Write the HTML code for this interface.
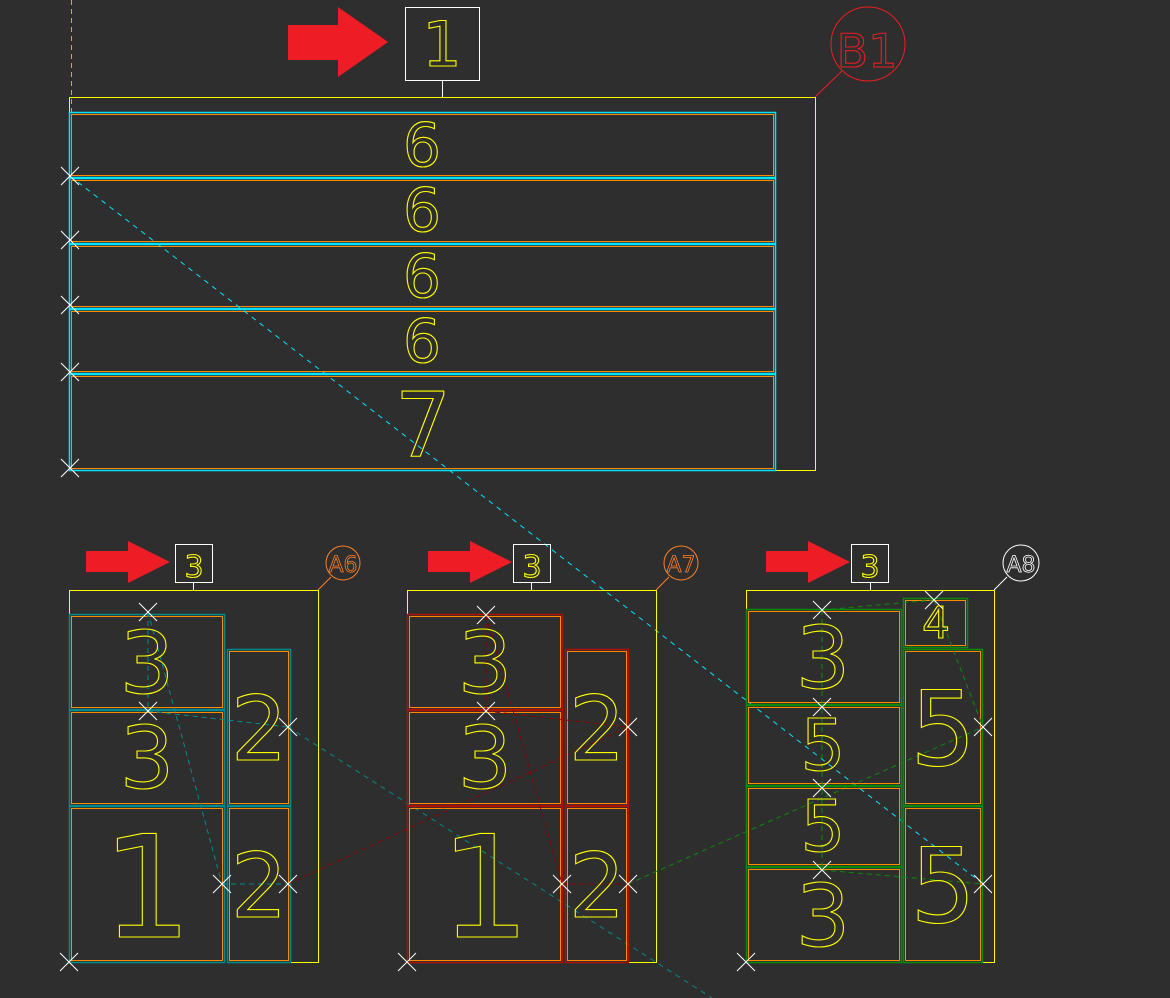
<!DOCTYPE html>
<html><head><meta charset="utf-8"><style>
html,body{margin:0;padding:0;background:#2e2e2e;}
svg{display:block}
text{font-family:"DejaVu Sans","Liberation Sans",sans-serif;fill:none;stroke:#ffff00;stroke-width:1.1;text-anchor:middle}
</style></head><body>
<svg width="1170" height="998" viewBox="0 0 1170 998" xmlns="http://www.w3.org/2000/svg">
<rect width="1170" height="998" fill="#2e2e2e"/>
<g fill="none" stroke-width="1">
<polygon points="288,25 338,25 338,7 388,42 338,77 338,60 288,60" fill="#ee1c24" stroke="none"/>
<rect x="405.5" y="7.5" width="74" height="73" stroke="#fff"/>
<line x1="442.5" y1="81" x2="442.5" y2="97" stroke="#fff"/>
<circle cx="868" cy="44" r="37" stroke="#ee1c24"/>
<line x1="815" y1="97" x2="842" y2="71" stroke="#ee1c24"/>
<polyline points="69.5,112 69.5,97.5 815.5,97.5 815.5,470.5 775,470.5" stroke="#ffff00"/>
<line x1="71.5" y1="0" x2="71.5" y2="112" stroke="#e0a040" stroke-dasharray="5,4"/>
<g>
<rect x="69.5" y="112.5" width="706" height="65" stroke="#00e5ff" stroke-width="1.5"/>
<rect x="71.5" y="114.5" width="702" height="61" stroke="#ff8c00"/>
<rect x="69.5" y="178.5" width="706" height="65" stroke="#00e5ff" stroke-width="1.5"/>
<rect x="71.5" y="180.5" width="702" height="61" stroke="#ff8c00"/>
<rect x="69.5" y="244.5" width="706" height="64" stroke="#00e5ff" stroke-width="1.5"/>
<rect x="71.5" y="246.5" width="702" height="60" stroke="#ff8c00"/>
<rect x="69.5" y="309.5" width="706" height="64" stroke="#00e5ff" stroke-width="1.5"/>
<rect x="71.5" y="311.5" width="702" height="60" stroke="#ff8c00"/>
<rect x="69.5" y="374.5" width="706" height="96" stroke="#00e5ff" stroke-width="1.5"/>
<rect x="71.5" y="376.5" width="702" height="92" stroke="#ff8c00"/>
</g>
<line x1="70" y1="176" x2="983" y2="884" stroke="#00e5ff" stroke-dasharray="5,5"/>
<line x1="288" y1="727" x2="712" y2="998" stroke="#008b8b" stroke-dasharray="5,5"/>

<polygon points="86,551 128,551 128,541 170,562 128,583 128,572 86,572" fill="#ee1c24" stroke="none"/>
<rect x="175.5" y="544.5" width="37" height="38" stroke="#fff"/>
<line x1="193.5" y1="583" x2="193.5" y2="590" stroke="#fff"/>
<polyline points="69.5,615 69.5,590.5 318.5,590.5 318.5,962.5 290,962.5" stroke="#ffff00"/>
<circle cx="343" cy="563" r="17" stroke="#ff7f27"/>
<line x1="318" y1="590" x2="331" y2="577" stroke="#ff7f27"/>
<g stroke="#008b8b" stroke-width="1.5">
<rect x="69.5" y="614.5" width="155" height="95"/><rect x="69.5" y="710.5" width="155" height="95"/><rect x="69.5" y="806.5" width="155" height="156"/>
<rect x="227.5" y="649.5" width="63" height="156"/><rect x="227.5" y="806.5" width="63" height="156"/>
</g>
<g stroke="#ff8c00">
<rect x="71.5" y="616.5" width="151" height="91"/><rect x="71.5" y="712.5" width="151" height="91"/><rect x="71.5" y="808.5" width="151" height="152"/>
<rect x="229.5" y="651.5" width="59" height="152"/><rect x="229.5" y="808.5" width="59" height="152"/>
</g>
<g stroke="#008b8b" stroke-dasharray="5,4">
<line x1="148" y1="612" x2="148" y2="711"/><line x1="148" y1="612" x2="222" y2="884"/>
<line x1="222" y1="884" x2="288" y2="884"/><line x1="148" y1="711" x2="288" y2="727"/>
</g>
<line x1="288" y1="884" x2="628" y2="727" stroke="#8b0000" stroke-dasharray="5,4"/>

<polygon points="428,551 470,551 470,541 512,562 470,583 470,572 428,572" fill="#ee1c24" stroke="none"/>
<rect x="513.5" y="544.5" width="37" height="38" stroke="#fff"/>
<line x1="531.5" y1="583" x2="531.5" y2="590" stroke="#fff"/>
<polyline points="407.5,615 407.5,590.5 656.5,590.5 656.5,962.5 628,962.5" stroke="#ffff00"/>
<circle cx="681" cy="563" r="17" stroke="#ff7f27"/>
<line x1="656" y1="590" x2="669" y2="577" stroke="#ff7f27"/>
<g stroke="#b01000" stroke-width="1.5">
<rect x="407.5" y="614.5" width="155" height="95"/><rect x="407.5" y="710.5" width="155" height="95"/><rect x="407.5" y="806.5" width="155" height="156"/>
<rect x="565.5" y="649.5" width="63" height="156"/><rect x="565.5" y="806.5" width="63" height="156"/>
</g>
<g stroke="#ff8c00">
<rect x="409.5" y="616.5" width="151" height="91"/><rect x="409.5" y="712.5" width="151" height="91"/><rect x="409.5" y="808.5" width="151" height="152"/>
<rect x="567.5" y="651.5" width="59" height="152"/><rect x="567.5" y="808.5" width="59" height="152"/>
</g>
<g stroke="#8b0000" stroke-dasharray="5,4">
<line x1="486" y1="615" x2="486" y2="711"/><line x1="486" y1="615" x2="562" y2="884"/>
<line x1="562" y1="884" x2="628" y2="884"/><line x1="486" y1="711" x2="628" y2="727"/>
</g>
<line x1="628" y1="884" x2="983" y2="727" stroke="#0a8a0a" stroke-dasharray="5,4"/>

<polygon points="766,551 808,551 808,541 850,562 808,583 808,572 766,572" fill="#ee1c24" stroke="none"/>
<rect x="851.5" y="544.5" width="37" height="38" stroke="#fff"/>
<line x1="870.5" y1="583" x2="870.5" y2="590" stroke="#fff"/>
<polyline points="746.5,610 746.5,590.5 994.5,590.5 994.5,962.5 982,962.5" stroke="#ffff00"/>
<circle cx="1021" cy="563" r="18" stroke="#fff"/>
<line x1="994" y1="590" x2="1007" y2="577" stroke="#fff"/>
<g stroke="#0a8a0a" stroke-width="1.5">
<rect x="746.5" y="609.5" width="155" height="95"/><rect x="746.5" y="705.5" width="155" height="80"/><rect x="746.5" y="786.5" width="155" height="80"/><rect x="746.5" y="867.5" width="155" height="95"/>
<rect x="903.5" y="598.5" width="64" height="49"/><rect x="903.5" y="649.5" width="79" height="156"/><rect x="903.5" y="806.5" width="79" height="156"/>
</g>
<g stroke="#ff8c00">
<rect x="748.5" y="611.5" width="151" height="91"/><rect x="748.5" y="707.5" width="151" height="76"/><rect x="748.5" y="788.5" width="151" height="76"/><rect x="748.5" y="869.5" width="151" height="91"/>
<rect x="905.5" y="600.5" width="60" height="45"/><rect x="905.5" y="651.5" width="75" height="152"/><rect x="905.5" y="808.5" width="75" height="152"/>
</g>
<g stroke="#0a8a0a" stroke-dasharray="5,4">
<line x1="822" y1="610" x2="822" y2="870"/><line x1="822" y1="610" x2="934" y2="600"/>
<line x1="934" y1="600" x2="983" y2="727"/><line x1="822" y1="870" x2="983" y2="884"/>
</g>

<g stroke="#fff" stroke-width="1">
<path d="M61,167l18,18M79,167l-18,18 M61,231l18,18M79,231l-18,18 M61,296l18,18M79,296l-18,18 M61,363l18,18M79,363l-18,18 M61,459l18,18M79,459l-18,18"/>
<path d="M139,603l18,18M157,603l-18,18 M139,702l18,18M157,702l-18,18 M213,875l18,18M231,875l-18,18 M279,875l18,18M297,875l-18,18 M279,718l18,18M297,718l-18,18 M60,953l18,18M78,953l-18,18"/>
<path d="M477,606l18,18M495,606l-18,18 M477,702l18,18M495,702l-18,18 M553,875l18,18M571,875l-18,18 M619,875l18,18M637,875l-18,18 M619,718l18,18M637,718l-18,18 M398,953l18,18M416,953l-18,18"/>
<path d="M813,601l18,18M831,601l-18,18 M813,698l18,18M831,698l-18,18 M813,779l18,18M831,779l-18,18 M813,861l18,18M831,861l-18,18 M925,591l18,18M943,591l-18,18 M974,718l18,18M992,718l-18,18 M974,875l18,18M992,875l-18,18 M737,953l18,18M755,953l-18,18"/>
</g>
</g>

<text x="442" y="66" font-size="62">1</text>
<text x="867" y="67" font-size="46" style="stroke:#ee1c24">B1</text>
<text x="194" y="577" font-size="30">3</text>
<text x="532" y="577" font-size="30">3</text>
<text x="870" y="577" font-size="30">3</text>
<text x="343" y="572" font-size="22" style="stroke:#ff7f27;stroke-width:0.8">A6</text>
<text x="681" y="572" font-size="22" style="stroke:#ff7f27;stroke-width:0.8">A7</text>
<text x="1021" y="572" font-size="22" style="stroke:#fff;stroke-width:0.8">A8</text>

<text x="422" y="166" font-size="60">6</text>
<text x="422" y="231" font-size="60">6</text>
<text x="422" y="297" font-size="60">6</text>
<text x="422" y="362" font-size="60">6</text>
<text x="423" y="456" font-size="89">7</text>

<text x="147" y="693" font-size="86">3</text>
<text x="147" y="788" font-size="86">3</text>
<text x="147" y="937" font-size="142">1</text>
<text x="259" y="760" font-size="89">2</text>
<text x="259" y="917" font-size="89">2</text>

<text x="485" y="693" font-size="86">3</text>
<text x="485" y="788" font-size="86">3</text>
<text x="485" y="937" font-size="142">1</text>
<text x="597" y="760" font-size="89">2</text>
<text x="597" y="917" font-size="89">2</text>

<text x="823" y="688" font-size="86">3</text>
<text x="823" y="770" font-size="71">5</text>
<text x="823" y="851" font-size="71">5</text>
<text x="823" y="946" font-size="86">3</text>
<text x="936" y="638" font-size="44">4</text>
<text x="943" y="765" font-size="103">5</text>
<text x="943" y="922" font-size="103">5</text>
</svg>
</body></html>
